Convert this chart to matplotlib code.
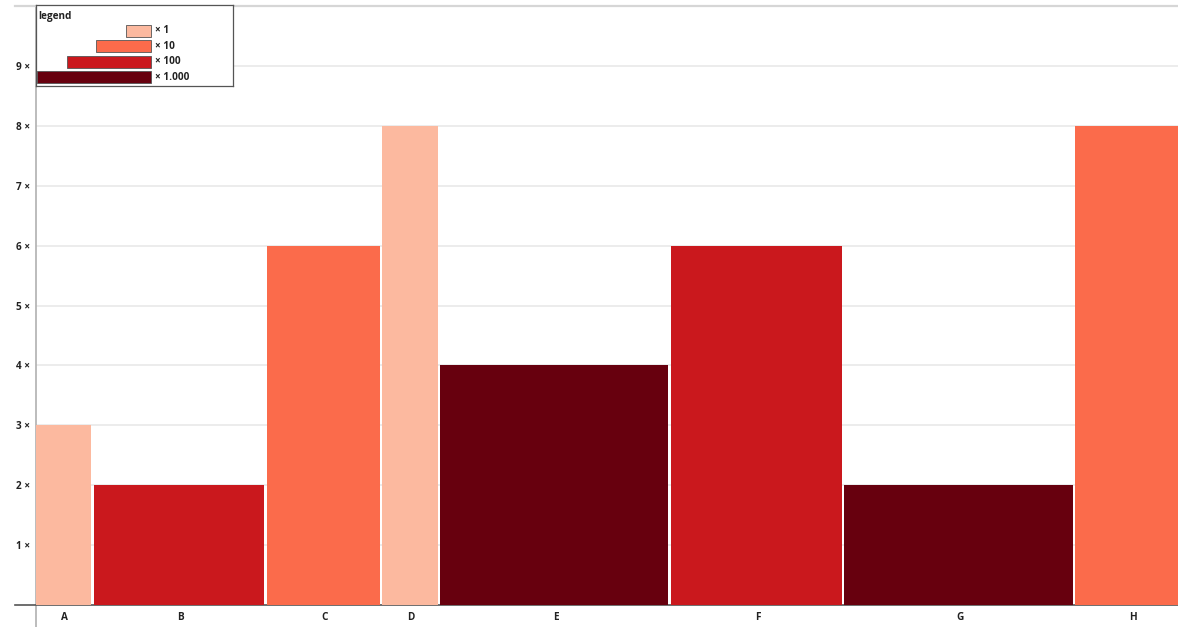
import matplotlib.pyplot as plt
from matplotlib.ticker import FixedLocator

plt.rcParams['font.family'] = ['Open Sans', 'DejaVu Sans']

# data
categories = ['A', 'B', 'C', 'D', 'E', 'F', 'G', 'H']
values = [3, 2, 6, 8, 4, 6, 2, 8]
multipliers = [1, 100, 10, 1, 1000, 100, 1000, 10]

legend_mults = [1, 10, 100, 1000]
legend_labels = ['× 1', '× 10', '× 100', '× 1.000']
y_ticks = [1, 2, 3, 4, 5, 6, 7, 8, 9]

COLORS = {1: '#fcb99f', 10: '#fb6b4b', 100: '#ca181d', 1000: '#67000e'}
SIZES = {1: 1, 10: 2, 100: 3, 1000: 4}

W, H = 1178, 627
fig = plt.figure(figsize=(W / 100, H / 100), dpi=100)

# main axes in pixel terms: x 36..1178, y 6..605
ax = fig.add_axes([36 / W, (H - 605) / H, (W - 36) / W, 599 / H])

widths = [SIZES[m] for m in multipliers]
lefts = []
pos = 0
for w in widths:
    lefts.append(pos)
    pos += w
GAP = 0.045
ax.bar(lefts, values, width=[w - GAP for w in widths], align='edge',
       color=[COLORS[m] for m in multipliers], linewidth=0, zorder=3)

ax.set_xlim(0, 19.78)
ax.set_ylim(0, 10)
ax.set_xticks([l + w / 2 for l, w in zip(lefts, widths)])
ax.set_xticklabels(categories)
ax.yaxis.set_major_locator(FixedLocator(y_ticks))
ax.set_yticklabels([f'{v} ×' for v in y_ticks])
ax.tick_params(length=0, labelsize=7.2, colors='#222222')
ax.tick_params(axis='x', pad=5)
ax.tick_params(axis='y', pad=4)
for lbl in ax.get_xticklabels() + ax.get_yticklabels():
    lbl.set_fontweight('bold')

ax.grid(axis='y', color='#e9e9e9', linewidth=1.2, zorder=0)
ax.set_axisbelow(True)

ax.spines['right'].set_visible(False)
ax.spines['left'].set_color('#b0b0b0')
ax.spines['left'].set_linewidth(1.2)
ax.spines['left'].set_bounds(-0.37, 10)
ax.spines['bottom'].set_color('#555555')
ax.spines['bottom'].set_linewidth(1.2)
ax.spines['bottom'].set_bounds(-0.37, 19.78)
ax.spines['top'].set_color('#d6d6d6')
ax.spines['top'].set_linewidth(1.6)
ax.spines['top'].set_bounds(-0.37, 19.78)

# legend box, drawn as a small axes in pixel units
lax = fig.add_axes([36 / W, (H - 86) / H, 197 / W, 81 / H])
lax.set_xlim(0, 197)
lax.set_ylim(81, 0)
lax.set_xticks([])
lax.set_yticks([])
for s in lax.spines.values():
    s.set_color('#555555')
    s.set_linewidth(0.9)
lax.text(2, 11, 'legend', fontsize=7.2, fontweight='bold', color='#222222', va='center')
for i, (m, lab) in enumerate(zip(legend_mults, legend_labels)):
    yc = 25.5 + i * 15.6
    bw = 29.6 * SIZES[m] - 4.5
    lax.barh(yc, -bw, left=115, height=12, color=COLORS[m],
             edgecolor='#555555', linewidth=0.6)
    lax.text(119, yc, lab, fontsize=7.2, fontweight='bold', color='#222222', va='center')

fig.savefig('out.png', dpi=100)
